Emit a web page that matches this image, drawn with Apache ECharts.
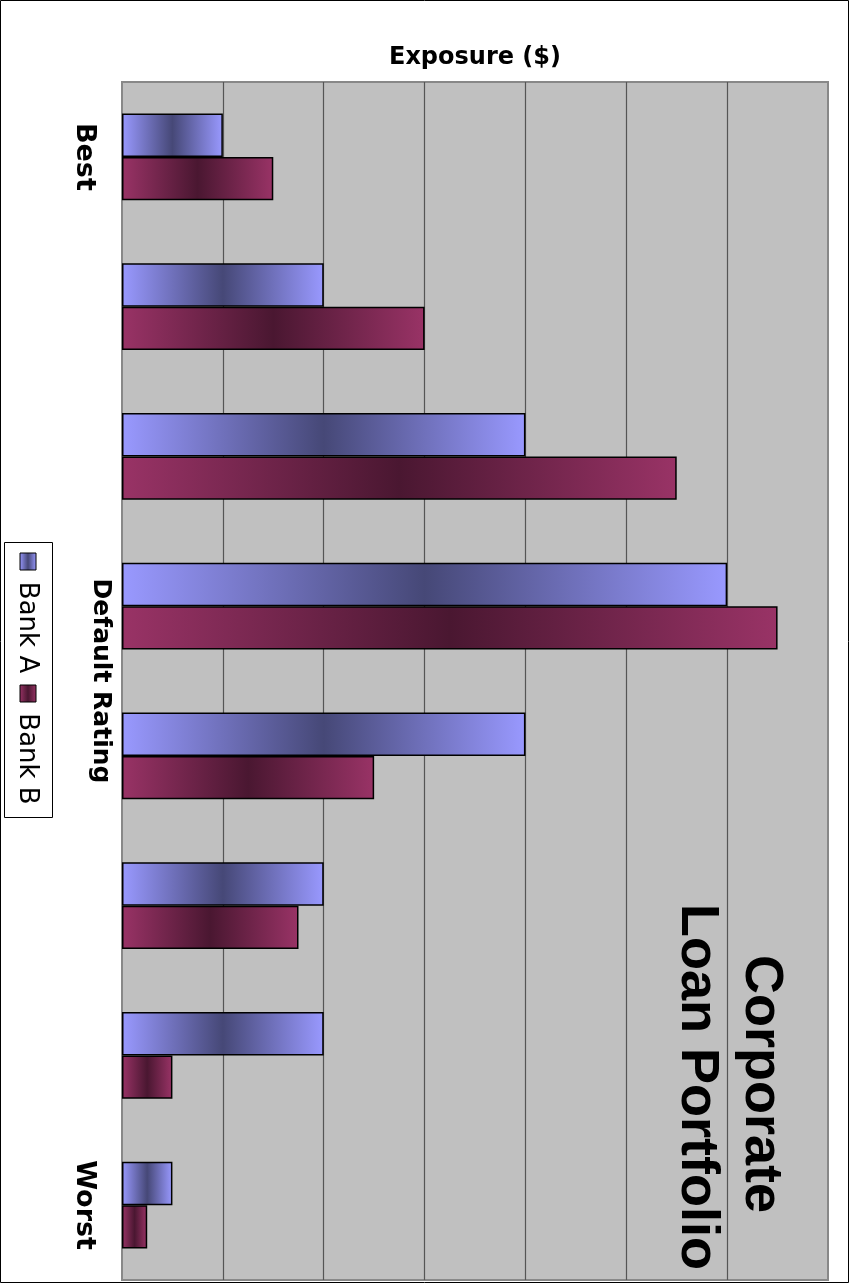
<!DOCTYPE html>
<html>
<head>
<meta charset="utf-8">
<script src="https://cdn.jsdelivr.net/npm/echarts@6/dist/echarts.min.js"></script>
<style>
  html, body { margin: 0; padding: 0; background: #fff; }
  #chart { width: 852px; height: 1284px; }
</style>
</head>
<body>
<div id="chart"></div>
<script>
// ---- data ----
const categories = ['Best', 'Rating 2', 'Rating 3', 'Rating 4', 'Rating 5', 'Rating 6', 'Rating 7', 'Worst'];
const tickLabels = ['Best', '', '', '', '', '', '', 'Worst'];
const seriesNames = ['Bank A', 'Bank B'];
const bankA = [1, 2, 4, 6, 4, 2, 2, 0.5];
const bankB = [1.5, 3, 5.5, 6.5, 2.5, 1.75, 0.5, 0.25];
const titleLines = ['Corporate', 'Loan Portfolio'];
const valueAxisName = 'Exposure ($)';
const categoryAxisName = 'Default Rating';

// ---- styles ----
function grad(light, dark) {
  return new echarts.graphic.LinearGradient(0, 0, 1, 0, [
    { offset: 0, color: light },
    { offset: 0.5, color: dark },
    { offset: 1, color: light }
  ]);
}
const gradA = () => grad('#9999ff', '#464877');
const gradB = () => grad('#993366', '#4a1731');

const chart = echarts.init(document.getElementById('chart'), null, { renderer: 'canvas' });

const option = {
  backgroundColor: '#ffffff',
  animation: false,
  grid: {
    left: 122, right: 24, top: 82, bottom: 4,
    show: true,
    backgroundColor: '#c0c0c0',
    borderColor: '#888888',
    borderWidth: 2
  },
  xAxis: {
    type: 'value',
    position: 'top',
    min: 0, max: 7, interval: 1,
    axisLabel: { show: false },
    axisTick: { show: false },
    axisLine: { show: false },
    splitLine: { show: true, showMinLine: false, showMaxLine: false, lineStyle: { color: '#555555', width: 1.2 } },
    name: valueAxisName,
    nameLocation: 'middle',
    nameGap: 12,
    nameMoveOverlap: false,
    nameTextStyle: { fontFamily: 'DejaVu Sans', fontWeight: 'bold', fontSize: 24, color: '#000' }
  },
  yAxis: {
    type: 'category',
    inverse: true,
    data: categories,
    axisTick: { show: false },
    axisLine: { show: false },
    axisLabel: {
      rotate: -90,
      margin: 24,
      interval: 0,
      fontFamily: 'DejaVu Sans', fontWeight: 'bold', fontSize: 27, color: '#000',
      formatter: (v, i) => tickLabels[i]
    },
    name: categoryAxisName,
    nameLocation: 'middle',
    nameRotate: -90,
    nameGap: 9,
    nameMoveOverlap: false,
    nameTextStyle: { fontFamily: 'DejaVu Sans', fontWeight: 'bold', fontSize: 25, color: '#000' }
  },
  series: [
    {
      name: seriesNames[0], type: 'bar', data: bankA,
      barGap: '0%', barCategoryGap: '42%',
      itemStyle: { color: gradA(), borderColor: '#000', borderWidth: 1.5 }
    },
    {
      name: seriesNames[1], type: 'bar', data: bankB,
      barGap: '0%', barCategoryGap: '42%',
      itemStyle: { color: gradB(), borderColor: '#000', borderWidth: 1.5 }
    }
  ],
  graphic: [
    // outer chart border
    { type: 'rect', shape: { x: 0.5, y: 0.5, width: 848, height: 1282 },
      style: { fill: 'none', stroke: '#000', lineWidth: 1 }, silent: true, z: 100 },
    // title (rotated)
    { type: 'text', x: 761, y: 1084, rotation: -Math.PI / 2,
      style: { text: titleLines[0], font: 'bold 54px "Liberation Sans"', fill: '#000', align: 'center', verticalAlign: 'middle' }, z: 50 },
    { type: 'text', x: 697, y: 1087, rotation: -Math.PI / 2,
      style: { text: titleLines[1], font: 'bold 54px "Liberation Sans"', fill: '#000', align: 'center', verticalAlign: 'middle' }, z: 50 },
    // legend (rotated)
    { type: 'rect', shape: { x: 4.5, y: 542.5, width: 48, height: 275 },
      style: { fill: '#fff', stroke: '#000', lineWidth: 1 }, z: 50 },
    { type: 'rect', shape: { x: 20, y: 553, width: 16, height: 17 },
      style: { fill: gradA(), stroke: '#000', lineWidth: 1 }, z: 51 },
    { type: 'text', x: 27, y: 627.5, rotation: -Math.PI / 2,
      style: { text: seriesNames[0], font: '26px "DejaVu Sans"', fill: '#000', align: 'center', verticalAlign: 'middle' }, z: 51 },
    { type: 'rect', shape: { x: 20, y: 685, width: 16, height: 17 },
      style: { fill: gradB(), stroke: '#000', lineWidth: 1 }, z: 51 },
    { type: 'text', x: 27, y: 759, rotation: -Math.PI / 2,
      style: { text: seriesNames[1], font: '26px "DejaVu Sans"', fill: '#000', align: 'center', verticalAlign: 'middle' }, z: 51 }
  ]
};
chart.setOption(option);
</script>
</body>
</html>
